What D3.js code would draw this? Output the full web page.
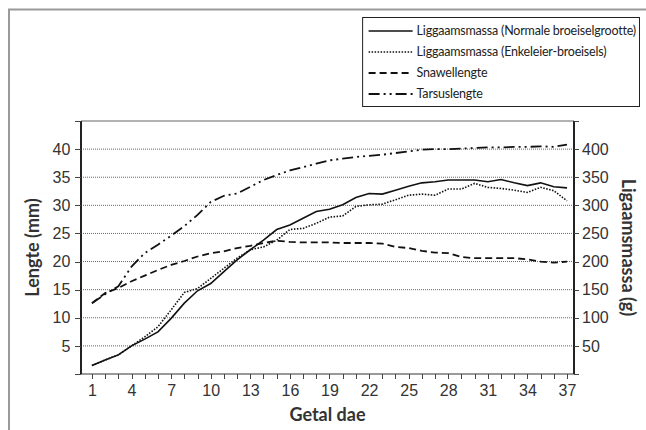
<!DOCTYPE html>
<html>
<head>
<meta charset="utf-8">
<script src="https://cdn.jsdelivr.net/npm/d3@7"></script>
<style>
  body { margin: 0; background: #fff; }
  svg { display: block; font-family: Lato, "Open Sans", sans-serif; }
</style>
</head>
<body>
<svg id="chart" width="646" height="430"></svg>
<script>
// days on the x axis
const days = d3.range(1, 38);
const xLabels = [1, 4, 7, 10, 13, 16, 19, 22, 25, 28, 31, 34, 37];

// body mass (g), right axis
const massNormal = [15, 25, 34, 50, 62, 75, 99, 126, 148, 161, 182, 203, 221, 238, 257, 265, 277, 289, 293, 301, 314, 321, 320, 327, 334, 340, 342, 345, 345, 345, 342, 346, 340, 335, 340, 333, 331];
const massSingle = [15, 25, 34, 50, 66, 84, 114, 145, 152, 170, 188, 206, 221, 226, 238, 257, 259, 268, 279, 281, 298, 301, 302, 310, 318, 320, 318, 329, 329, 339, 332, 330, 327, 323, 332, 326, 308];
// lengths (mm), left axis
const beakLength = [12.6, 14.4, 15.3, 16.5, 17.5, 18.5, 19.4, 20.1, 20.9, 21.5, 21.8, 22.4, 22.8, 23.3, 23.7, 23.5, 23.4, 23.4, 23.4, 23.3, 23.3, 23.3, 23.2, 22.6, 22.4, 21.9, 21.6, 21.5, 20.8, 20.6, 20.6, 20.6, 20.6, 20.4, 20.0, 19.8, 20.0];
const tarsusLength = [12.6, 14.2, 15.6, 19.1, 21.5, 23.0, 24.6, 26.3, 28.3, 30.6, 31.7, 32.1, 33.3, 34.5, 35.4, 36.2, 36.8, 37.4, 38.0, 38.3, 38.6, 38.8, 39.0, 39.3, 39.6, 39.9, 40.0, 40.0, 40.1, 40.2, 40.3, 40.3, 40.4, 40.4, 40.5, 40.4, 40.8];

const leftTicks = [0, 5, 10, 15, 20, 25, 30, 35, 40, 45];
const rightTicks = [0, 50, 100, 150, 200, 250, 300, 350, 400, 450];

const seriesNames = [
  "Liggaamsmassa (Normale broeiselgrootte)",
  "Liggaamsmassa (Enkeleier-broeisels)",
  "Snawellengte",
  "Tarsuslengte"
];

const svg = d3.select("#chart");
const plotLeft = 81, plotRight = 574, plotTop = 121, plotBottom = 374;

const x = d3.scaleLinear().domain([0.17, 37.53]).range([plotLeft, plotRight]);
const yL = d3.scaleLinear().domain([0, 45]).range([plotBottom, plotTop]);
const yR = d3.scaleLinear().domain([0, 450]).range([plotBottom, plotTop]);

// outer frame (left and top edges only)
svg.append("path")
  .attr("d", "M9,430 V9.5 H646")
  .attr("fill", "none").attr("stroke", "#9a9a9a").attr("stroke-width", 2);

// gridlines
svg.append("g")
  .selectAll("line")
  .data(leftTicks.filter(t => t > 0 && t < 45))
  .join("line")
    .attr("x1", plotLeft).attr("x2", plotRight)
    .attr("y1", d => yL(d)).attr("y2", d => yL(d))
    .attr("stroke", "#666").attr("stroke-width", 1)
    .attr("stroke-dasharray", "1 1");

// top frame line of the plot
svg.append("line")
  .attr("x1", plotLeft).attr("x2", plotRight)
  .attr("y1", yL(45)).attr("y2", yL(45))
  .attr("stroke", "#999").attr("stroke-width", 1.5);

// bottom axis
const xAxis = d3.axisBottom(x)
  .tickValues(days)
  .tickSize(5)
  .tickFormat(d => xLabels.includes(d) ? d : "");
const gx = svg.append("g")
  .attr("transform", `translate(0,${plotBottom})`)
  .call(xAxis);
gx.select(".domain").attr("stroke", "#999").attr("stroke-width", 2)
  .attr("d", `M${plotLeft},0H${plotRight}`);
gx.selectAll(".tick line").attr("stroke", "#444");
gx.selectAll(".tick text").attr("fill", "#333").attr("font-size", 16).attr("dy", "0.9em");

// left axis
const gl = svg.append("g")
  .attr("transform", `translate(${plotLeft},0)`)
  .call(d3.axisLeft(yL).tickValues(leftTicks).tickSize(6)
    .tickFormat(d => (d > 0 && d < 45) ? d : ""));
gl.select(".domain").attr("stroke", "#222").attr("stroke-width", 2.5)
  .attr("d", `M0,${plotTop}V${plotBottom}`);
gl.selectAll(".tick line").attr("stroke", "#444");
gl.selectAll(".tick text").attr("fill", "#333").attr("font-size", 16).attr("dx", "-0.1em");

// right axis
const gr = svg.append("g")
  .attr("transform", `translate(${plotRight},0)`)
  .call(d3.axisRight(yR).tickValues(rightTicks).tickSize(5)
    .tickFormat(d => (d > 0 && d < 450) ? d : ""));
gr.select(".domain").attr("stroke", "#222").attr("stroke-width", 2.5)
  .attr("d", `M0,${plotTop}V${plotBottom}`);
gr.selectAll(".tick line").attr("stroke", "#444");
gr.selectAll(".tick text").attr("fill", "#333").attr("font-size", 16);

svg.selectAll(".domain, .tick line").attr("shape-rendering", "crispEdges");

// axis titles
svg.append("text")
  .attr("transform", `translate(39,${(plotTop + plotBottom) / 2}) rotate(-90)`)
  .attr("text-anchor", "middle")
  .attr("font-size", 18).attr("font-weight", "bold").attr("fill", "#333")
  .text("Lengte (mm)");
svg.append("text")
  .attr("transform", `translate(622,${(plotTop + plotBottom) / 2}) rotate(90)`)
  .attr("text-anchor", "middle")
  .attr("font-size", 18).attr("font-weight", "bold").attr("fill", "#333")
  .text("Ligaamsmassa (g)");
svg.append("text")
  .attr("x", (plotLeft + plotRight) / 2).attr("y", 421)
  .attr("text-anchor", "middle")
  .attr("font-size", 18).attr("font-weight", "bold").attr("fill", "#333")
  .text("Getal dae");

// series
const styles = [
  { data: massNormal, y: yR, dash: null, w: 1.6 },
  { data: massSingle, y: yR, dash: "1.5 1.5", w: 1.6 },
  { data: beakLength, y: yL, dash: "7 4", w: 1.8 },
  { data: tarsusLength, y: yL, dash: "11 4 2 4 2 4", w: 1.8 }
];

styles.forEach(s => {
  const line = d3.line()
    .x((d, i) => x(days[i]))
    .y(d => s.y(d));
  svg.append("path")
    .datum(s.data)
    .attr("d", line)
    .attr("fill", "none")
    .attr("stroke", "#111")
    .attr("stroke-width", s.w)
    .attr("stroke-dasharray", s.dash);
});

// legend
const legend = svg.append("g");
const rowY = [31, 52, 73, 94];
const textEnd = 636;
const items = legend.selectAll("g")
  .data(seriesNames)
  .join("g");
const texts = items.append("text")
  .attr("y", (d, i) => rowY[i])
  .attr("dy", "0.35em")
  .attr("font-size", 12.5).attr("letter-spacing", -0.2).attr("fill", "#222")
  .text(d => d);
const maxW = d3.max(texts.nodes(), n => n.getComputedTextLength());
const textX = textEnd - maxW;
texts.attr("x", textX);
items.append("line")
  .attr("x1", textX - 48).attr("x2", textX - 4)
  .attr("y1", (d, i) => rowY[i]).attr("y2", (d, i) => rowY[i])
  .attr("stroke", "#111")
  .attr("stroke-width", (d, i) => styles[i].w)
  .attr("stroke-dasharray", (d, i) => styles[i].dash);
legend.insert("rect", ":first-child")
  .attr("x", textX - 54).attr("y", 17.5)
  .attr("width", 639.5 - (textX - 54)).attr("height", 89)
  .attr("fill", "#fff").attr("stroke", "#222").attr("stroke-width", 1);
</script>
</body>
</html>
